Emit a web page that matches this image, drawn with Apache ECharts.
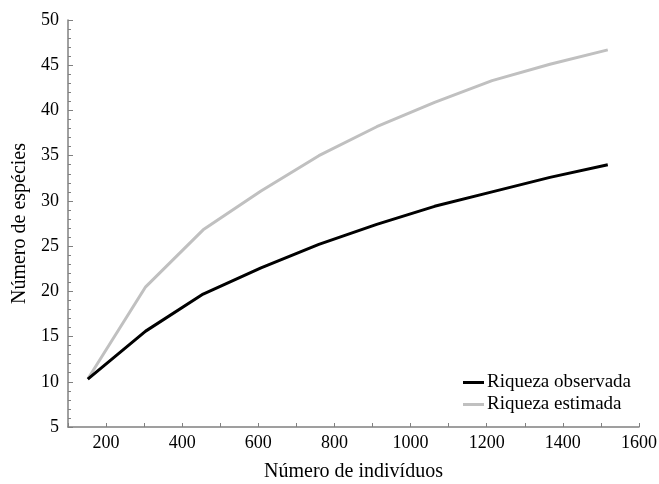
<!DOCTYPE html>
<html>
<head>
<meta charset="utf-8">
<script src="https://cdn.jsdelivr.net/npm/echarts@6/dist/echarts.min.js"></script>
<style>html,body{margin:0;padding:0;background:#fff}#c{width:659px;height:484px}</style>
</head>
<body>
<div id="c"></div>
<script>
const individuos = [152, 304, 455, 607, 759, 911, 1063, 1214, 1366, 1518];
const observada = [10.3, 15.6, 19.7, 22.6, 25.2, 27.4, 29.4, 31.0, 32.6, 34.0];
const estimada = [10.3, 20.5, 26.8, 31.1, 35.0, 38.2, 40.9, 43.3, 45.1, 46.7];
const seriesNames = ['Riqueza observada', 'Riqueza estimada'];

const font = 'Liberation Serif, Times New Roman, serif';
const chart = echarts.init(document.getElementById('c'));
chart.setOption({
  animation: false,
  backgroundColor: '#fff',
  grid: {left: 68, right: 20, top: 20, bottom: 57, outerBoundsMode: 'none', containLabel: false},
  legend: {
    orient: 'vertical', left: 458, top: 368, itemGap: 3,
    itemWidth: 21, itemHeight: 3, icon: 'rect',
    textStyle: {fontFamily: font, fontSize: 19, color: '#000', padding: [0,0,0,-2]},
    data: seriesNames
  },
  xAxis: {
    type: 'value', min: 100, max: 1600, interval: 100,
    name: 'Número de indivíduos', nameLocation: 'middle', nameGap: 35,
    nameTextStyle: {fontFamily: font, fontSize: 20, color: '#000'},
    axisLine: {show: true, lineStyle: {color: '#808080', width: 1.5}},
    axisTick: {show: true, inside: true, length: 4, lineStyle: {color: '#808080'}},
    axisLabel: {fontFamily: font, fontSize: 18, color: '#000', margin: 7,
      formatter: v => (v % 200 === 0 ? String(v) : '')},
    splitLine: {show: false}
  },
  yAxis: {
    type: 'value', min: 5, max: 50, interval: 5,
    name: 'Número de espécies', nameLocation: 'middle', nameGap: 29,
    nameTextStyle: {fontFamily: font, fontSize: 20, color: '#000'},
    axisLine: {show: true, lineStyle: {color: '#808080', width: 1.5}},
    axisTick: {show: true, inside: true, length: 5, lineStyle: {color: '#808080'}},
    minorTick: {show: true, splitNumber: 5, length: 3, lineStyle: {color: '#808080'}},
    axisLabel: {fontFamily: font, fontSize: 18, color: '#000', margin: 9},
    splitLine: {show: false}
  },
  series: [
    {name: seriesNames[0], type: 'line', showSymbol: false, symbol: 'none',
      data: individuos.map((x, i) => [x, observada[i]]),
      lineStyle: {color: '#000', width: 3}, itemStyle: {color: '#000'}, z: 3},
    {name: seriesNames[1], type: 'line', showSymbol: false, symbol: 'none',
      data: individuos.map((x, i) => [x, estimada[i]]),
      lineStyle: {color: '#c0c0c0', width: 3}, itemStyle: {color: '#c0c0c0'}, z: 2}
  ]
});
</script>
</body>
</html>
